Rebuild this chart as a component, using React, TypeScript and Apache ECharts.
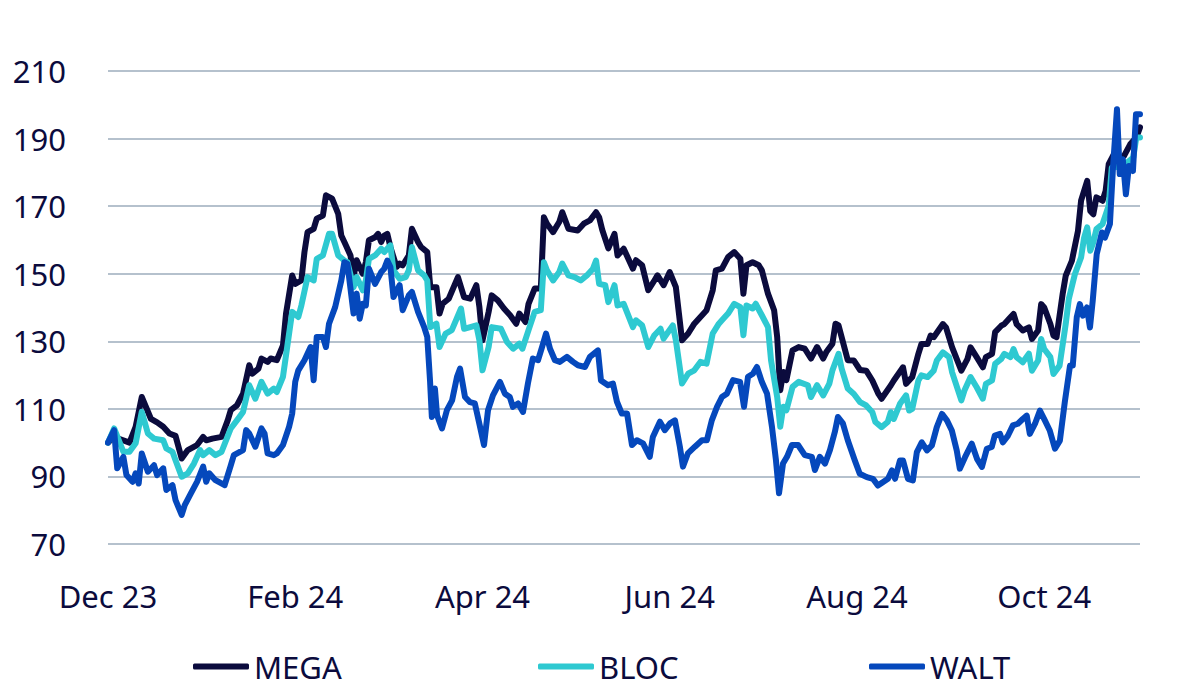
import React, { useEffect, useRef } from "react";
import * as echarts from "echarts";

// Days since 1 Dec 2023
const xTickLabels = ["Dec 23", "Feb 24", "Apr 24", "Jun 24", "Aug 24", "Oct 24"];
const xTickStep = 61;

const megaDays = [0,2,4,7,9,11,14,16,18,20,22,24,26,29,31,32,34,37,39,40,42,44,46,47,49,50,52,53,55,57,58,60,61,63,64,65,67,68,70,71,73,75,76,77,79,80,81,83,84,85,87,88,89,90,91,92,94,95,96,98,99,101,102,104,105,107,108,109,111,114,116,118,120,121,122,124,125,127,129,131,133,134,136,137,139,141,142,143,145,147,148,150,153,155,157,159,160,161,163,165,166,168,171,172,174,176,178,179,181,183,185,186,187,189,191,193,195,197,198,200,202,204,206,207,208,210,212,213,215,217,218,219,220,221,223,225,227,229,231,233,234,236,237,238,241,243,245,247,249,251,252,255,256,259,260,262,264,265,267,268,269,272,273,275,278,280,281,283,285,286,288,289,291,292,294,295,296,298,300,301,303,304,305,307,308,309,311,312,314,316,317,319,320,321,322,324,325,326,328,330,331,333,335,336.2];
const megaValues = [100,101.7,101,100,104.7,113.5,107,106,104.7,102.7,102,95.3,97.8,99.3,101.7,100.7,101.2,101.7,106.6,109.6,111,114.5,122.9,120.4,121.9,124.9,123.9,124.9,124.4,128.8,138.2,149.5,147,148,156.4,162.3,163.3,166.3,167.2,173.2,172.2,167.7,161.3,159.4,155.4,149,154,150,153.4,159.9,160.8,161.8,159.4,161.3,161.8,157.9,152,153,152.5,155.4,163.3,159.4,157.9,156.4,146,146,138.2,141.1,142.6,149,143.1,142.6,146.6,140.1,130.3,138.7,143.6,142.1,139.7,137.7,135.2,138.2,135.7,141.1,145.6,145.6,166.7,164.8,162.3,165.3,168.2,163.3,162.8,164.8,165.8,168.2,166.7,163,157.5,161.8,155.4,157.4,151.5,154,152.5,145.1,148,149.5,146.6,150.5,146,138.2,130.3,132.3,135.2,137.2,139.2,145.1,151,151.5,154.9,156.4,154.4,144.1,152.5,153.4,152.5,151,144.1,139.2,131.3,115.5,120.9,118.5,127.3,128.3,127.8,124.9,128.3,124.9,126.8,129.3,135.2,134.7,124.4,124.3,121.5,121.3,118.4,114.4,113,116.9,118.4,122.3,117.4,119.4,126.3,129.2,129.2,131.7,131.2,135.1,134.1,128.2,121.3,124.8,128.2,125.3,122.3,125.3,126.3,132.7,134.6,135.1,137.1,138.1,135.1,133.2,134.1,130.7,133.2,141,140,135.1,131.7,131.2,144,149.4,153.8,162.7,171.6,177.5,168.6,167.6,172.6,171.6,174.5,182.4,185.9,184.4,184.9,188.3,190.3,193.3];

const blocDays = [0,2,5,7,9,11,13,15,18,19,21,22,24,26,28,30,31,33,35,37,40,42,44,46,48,50,52,54,55,57,59,60,62,63,65,67,68,70,72,73,75,77,78,80,81,83,84,85,87,89,90,92,93,95,97,98,99,101,103,104,105,107,108,110,112,115,116,118,120,121,122,124,125,128,130,132,134,135,137,139,141,142,143,145,147,148,150,152,154,156,158,159,160,162,163,165,166,168,171,172,174,176,178,180,181,184,185,187,189,191,193,195,197,199,200,202,204,206,207,208,210,211,213,215,216,218,219,220,221,223,225,228,229,231,233,235,236,238,239,241,243,245,247,249,250,252,254,255,256,258,260,261,262,264,265,267,269,270,272,274,275,278,279,281,283,285,286,288,289,291,292,294,295,296,298,300,301,303,304,305,307,308,310,312,313,315,317,318,319,320,321,322,324,326,327,329,330,332,334,335,336.2];
const blocValues = [100,104.2,97.3,97.3,99.8,109.1,102.7,101.2,100.7,98.3,97.3,94.8,89.9,90.9,93.8,97.8,96.3,97.8,96.3,97.3,104.2,106.6,109.1,117,113,118,114.5,116,115,119.5,132.3,138.7,137.2,140.6,149,148,154.4,155.4,161.8,161.8,155.4,153.9,153.4,146,149,145.1,148,154.4,155.4,157.4,156.4,158.4,151,148.5,149,151,157.9,151,149.5,148,134.2,135.2,128.3,132.3,133.3,139.7,133.7,134.2,134.7,130.3,121.4,128.3,134.2,133.7,129.8,127.8,129.3,127.8,133.3,138.7,139.2,153.4,151,148,150.5,153,149.5,149,148,149.5,151.5,153.9,147,146.6,141.6,146.6,140.6,141.1,134.2,136.2,134.7,128.3,131.8,133.7,130.8,134.7,130.3,117.5,120.4,121.4,123.9,123.4,132.3,135.2,136.2,138.2,141.1,140.1,131.8,140.6,139.7,141.1,137.7,134.2,124.4,113.5,104.7,110.6,109.6,116.5,118,117,113.5,117,114,117.5,121.4,126.3,121.9,116,114.4,112,111,109,106.1,104.6,106.1,109,107,111.5,114,109.5,110,118.4,119.9,119.4,121.3,124.3,126.7,125.3,120.8,112.5,115.4,119.4,116.4,113,117.4,118.4,123.3,124.8,126.3,125.3,127.7,125.3,123.8,126.3,121.3,124.3,130.7,127.7,125.3,120.3,122.8,135.1,142.5,149.9,154.8,160.7,163.7,156.8,159.3,163.2,164.7,170.1,181.4,181.9,181.4,182.9,184.4,190.3,190.3];

const waltDays = [0,2,3,5,6,8,9,10,11,13,15,16,18,19,21,22,24,25,27,29,31,32,33,35,38,40,41,44,45,46,48,50,51,52,54,55,57,59,60,61,62,64,66,67,68,70,71,72,74,76,77,78,80,81,82,83,84,85,87,89,90,91,92,93,95,96,98,99,101,103,104,104.9,105.5,106.5,107.2,108.8,110.4,112.1,113.7,114.7,116.3,117.9,119.5,121.2,122.5,123.8,125.4,127.7,129.3,130.9,131.9,133.6,135.2,136.8,138.4,140.1,141.4,142.7,144,145.6,147.2,149.5,151.5,153.1,155.4,157,159.6,160.6,162.9,164.5,165.8,167.4,169.1,170.7,172.3,174.3,176.5,177.5,179.8,181.4,183.1,184.7,186.3,187.3,188.9,191.2,193.5,195.1,196.7,198.4,200,201.6,203.6,205.9,207.2,208.5,210.1,211.4,213,214.7,216.3,217.6,218.6,219.9,221.2,222.8,224.8,227,229.3,230.3,231.9,233.6,235.2,236.8,237.8,239.4,241,243.3,244.9,247.2,249.2,250.8,252.4,254.1,255.4,256.4,258,259,260.6,262.2,263.5,265.1,266.8,268.4,270,271.7,273.3,274.9,276.5,277.5,279.2,281.4,283.1,284.7,286.3,287.9,288.9,290.6,291.5,293.2,294.8,296.4,298,299.3,300.3,302,303.6,305.2,306.8,308.5,310.1,311.7,313.4,314.3,315.6,316.6,317.6,318.9,319.9,320.8,322.1,323.8,324.8,326.4,327.4,328.7,329.6,330.6,331.6,332.6,333.9,334.9,336.2];
const waltValues = [100,103.7,92.4,95.8,90.4,88.4,90.9,87.9,96.8,91.4,93.3,90.4,92.4,86,87.4,83,78.6,81.5,85,88.4,92.9,88.4,90.9,88.9,87.4,93.3,96.3,97.8,103.7,102.7,98.8,104.2,102.7,96.8,96.3,96.8,99.3,104.7,108.6,118,121.4,124.4,128.3,118.5,131.3,131.3,128.3,135.2,140.1,148,153.4,152.9,138.2,144.1,136.7,141.1,140.6,151.5,147,150.5,151.5,153.9,152,143.1,146.6,139.2,143.6,144.6,138.7,134.2,131.3,118.5,107.6,116,108.1,104.2,109.6,112.5,119.5,121.9,113.5,112,111.6,104.7,99.3,109.6,114,118,114.5,113.5,110.6,111.6,109.1,117.5,124.9,124.4,128.3,132.3,127.8,124.4,123.9,125.4,123.9,122.9,122.4,125.4,127.3,118.4,117,117.5,112.1,108.6,108.6,99.3,100.7,99.8,95.8,101.7,106.2,103.7,105.7,106.6,98.8,92.9,96.8,98.8,100.7,100.7,106.6,110.6,113.5,114.5,118.5,118,110.6,119.5,120.4,122.4,118,114.5,104.7,94.8,85,93.8,95.8,99.3,99.3,96.3,95.8,91.9,95.8,93.8,97.8,103.2,107.6,105.7,100.7,94.7,90.8,89.8,89.3,87.3,88.3,89.3,91.8,89.3,94.7,94.7,89.3,88.8,97.2,100.1,97.7,99.2,104.6,108.5,106.6,103.6,97.7,92.3,95.7,99.7,95.2,92.8,98.2,98.7,102.1,102.6,100.1,102.1,105.1,105.6,107,108,102.6,105.6,109.5,106.6,103.6,98.2,100.6,112,122.8,122.8,137.1,141,137.6,140,134.1,142,155.8,162.2,160.7,164.7,181.4,198.7,179.5,183.9,173.5,181.9,180.4,197.2,197.2];

const seriesNames = ["MEGA", "BLOC", "WALT"];
const seriesColors = ["#0b0b3d", "#2ec9d1", "#0548bc"];
const textColor = "#0b0b3d";
const fontFamily = "'Noto Sans', 'Open Sans', sans-serif";

function pairs(days: number[], values: number[]) {
  return days.map((d, i) => [d, values[i]]);
}

export default function App() {
  const ref = useRef<HTMLDivElement>(null);
  useEffect(() => {
    document.body.style.margin = "0";
    if (!ref.current) return;
    const chart = echarts.init(ref.current, undefined, { renderer: "svg" });
    const datasets = [
      pairs(megaDays, megaValues),
      pairs(blocDays, blocValues),
      pairs(waltDays, waltValues),
    ];
    const legendLefts = [193, 538, 869];
    chart.setOption({
      animation: false,
      backgroundColor: "#ffffff",
      grid: { left: 108, right: 60, top: 71, bottom: 156, containLabel: false },
      xAxis: {
        type: "value",
        min: 0,
        max: 336.2,
        interval: xTickStep,
        axisLine: { show: false },
        axisTick: { show: false },
        splitLine: { show: false },
        axisLabel: {
          margin: 36,
          fontSize: 31,
          color: textColor,
          fontFamily,
          formatter: (v: number) => {
            const idx = Math.round(v / xTickStep);
            if (Math.abs(v - idx * xTickStep) > 0.01) return "";
            return xTickLabels[idx] ?? "";
          },
        },
      },
      yAxis: {
        type: "value",
        min: 70,
        max: 210,
        interval: 20,
        axisLine: { show: false },
        axisTick: { show: false },
        axisLabel: { margin: 42, fontSize: 31, color: textColor, fontFamily },
        splitLine: { lineStyle: { color: "#b5c1cd", width: 2 } },
      },
      legend: seriesNames.map((name, i) => ({
        data: [name],
        left: legendLefts[i],
        top: 651,
        padding: 0,
        itemWidth: 56,
        itemHeight: 6,
        icon: "roundRect",
        textStyle: { fontSize: 31, color: textColor, fontFamily },
      })),
      series: seriesNames.map((name, i) => ({
        name,
        type: "line",
        data: datasets[i],
        showSymbol: false,
        symbol: "none",
        color: seriesColors[i],
        lineStyle: { width: 6, color: seriesColors[i], cap: "round", join: "round" },
        z: 2 + i,
      })),
    });
    return () => chart.dispose();
  }, []);
  return <div ref={ref} style={{ width: 1200, height: 700 }} />;
}
